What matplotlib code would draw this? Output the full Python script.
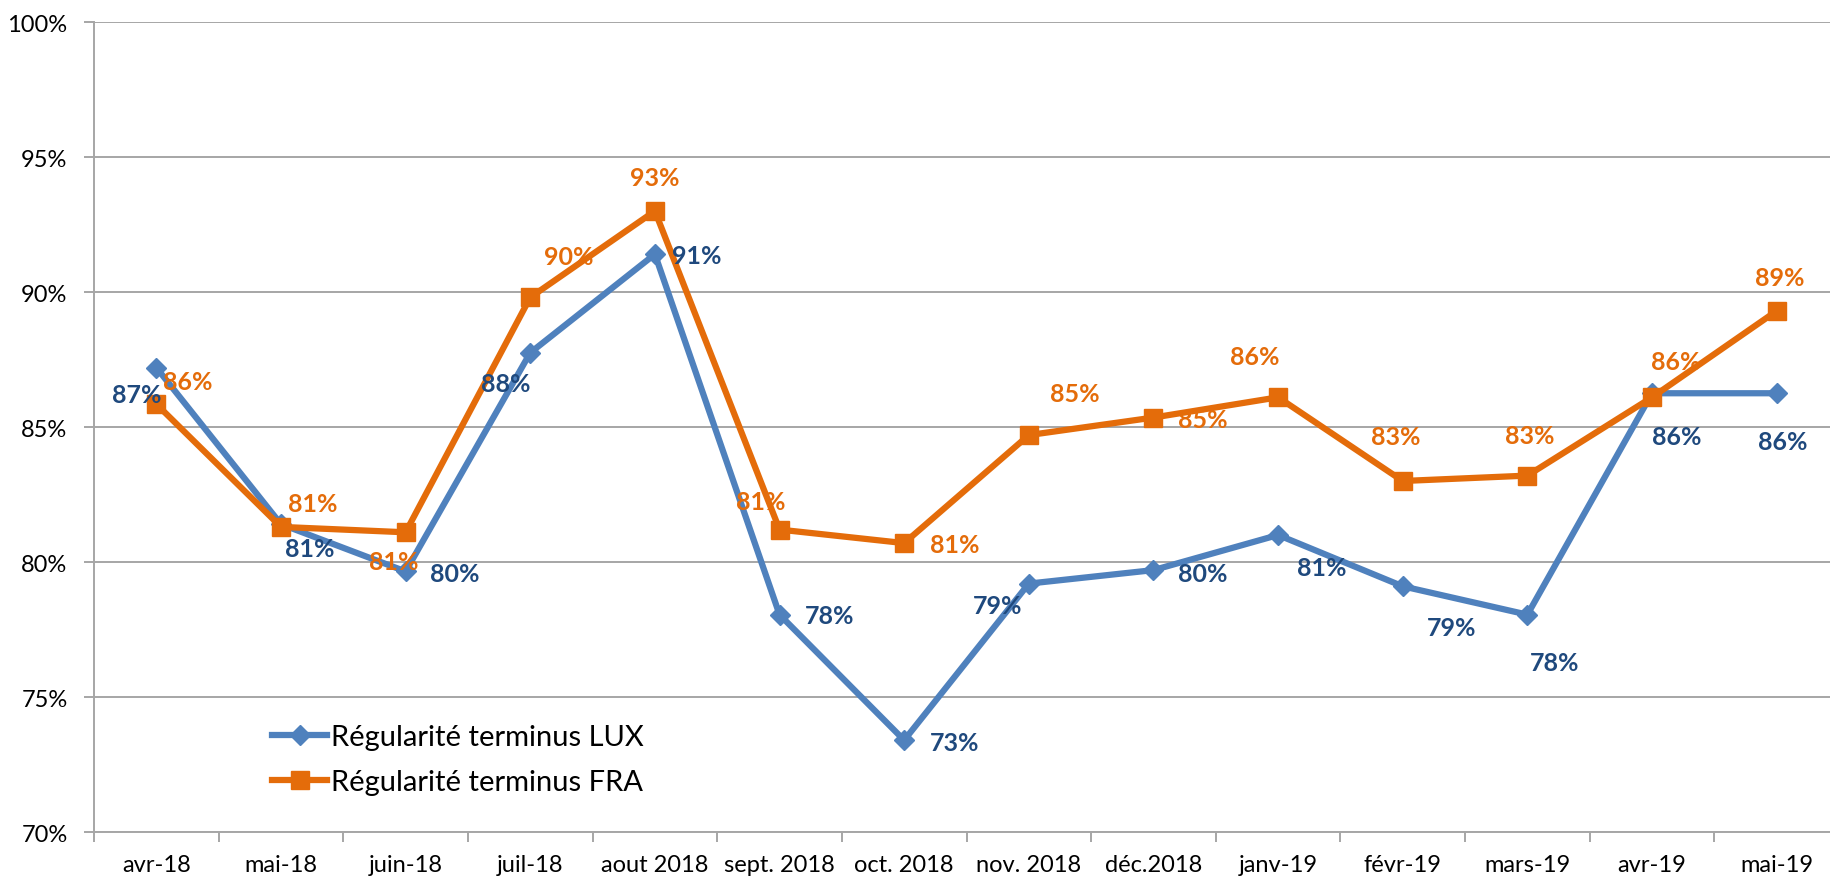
import matplotlib.pyplot as plt
from matplotlib.ticker import FixedLocator, FuncFormatter

plt.rcParams['font.family'] = ['Lato', 'DejaVu Sans']

# data
mois = ['avr-18', 'mai-18', 'juin-18', 'juil-18', 'aout 2018', 'sept. 2018',
        'oct. 2018', 'nov. 2018', 'déc.2018', 'janv-19', 'févr-19', 'mars-19',
        'avr-19', 'mai-19']
lux = [87.2, 81.4, 79.65, 87.75, 91.4, 78.05, 73.4, 79.2, 79.7, 81.0, 79.1, 78.05, 86.25, 86.25]
fra = [85.85, 81.3, 81.1, 89.8, 93.0, 81.2, 80.7, 84.7, 85.35, 86.1, 83.0, 83.2, 86.1, 89.3]

# label offsets (pixels, y up)
k = 1.1677
lux_off = [(-17, -23), (25, -21), (42, -2), (-21, -26), (36, -1), (43, -1), (43, -2),
           (-27, -19), (42, -3), (37, -28), (42, -35), (23, -41), (21, -37), (5, -41)]
fra_off = [(27, 19), (27, 20), (-10, -25), (33, 35), (0, 29), (-16, 24), (43, -1),
           (39, 36), (42, -2), (-20, 35), (-6, 38), (2, 34), (20, 31), (3, 29)]

c_lux = '#4F81BD'
c_fra = '#E46C0A'
c_lux_txt = '#1F497D'
grid = '#A6A6A6'

W, H = 1831, 879
fig = plt.figure(figsize=(W / 100, H / 100), dpi=100)
ax = fig.add_axes([94 / W, 1 - 833 / H, (1839 - 94) / W, (833 - 23) / H])

x = list(range(len(mois)))
ax.plot(x, lux, color=c_lux, lw=4.5, marker='D', ms=10, label='Régularité terminus LUX', zorder=3)
ax.plot(x, fra, color=c_fra, lw=4.5, marker='s', ms=13, label='Régularité terminus FRA', zorder=4)

for i in x:
    ax.annotate(f'{round(lux[i]):d}%', (i, lux[i]), xytext=(lux_off[i][0] * k, lux_off[i][1] * k),
                textcoords='offset pixels', ha='center', va='center', fontsize=18,
                fontweight='bold', color=c_lux_txt, zorder=5)
    ax.annotate(f'{round(fra[i]):d}%', (i, fra[i]), xytext=(fra_off[i][0] * k, fra_off[i][1] * k),
                textcoords='offset pixels', ha='center', va='center', fontsize=18,
                fontweight='bold', color=c_fra, zorder=5)

ax.set_xlim(-0.5, len(mois) - 0.5)
ax.set_ylim(70, 100)
ax.set_yticks(range(70, 101, 5))
ax.yaxis.set_major_formatter(FuncFormatter(lambda v, p: f'{v:.0f}%'))
ax.grid(axis='y', color=grid, lw=1.4)
ax.set_axisbelow(True)

ax.xaxis.set_major_locator(FixedLocator([i - 0.5 for i in range(len(mois) + 1)]))
ax.xaxis.set_major_formatter(FuncFormatter(lambda v, p: ''))
ax.xaxis.set_minor_locator(FixedLocator(x))
ax.set_xticklabels(mois, minor=True)
ax.tick_params(axis='x', which='major', length=7, width=1.4, color=grid, direction='out')
ax.tick_params(axis='x', which='minor', length=0, pad=16, labelsize=17)
ax.tick_params(axis='y', length=7, width=1.4, color=grid, pad=12, labelsize=17)

for s in ['top', 'right']:
    ax.spines[s].set_visible(False)
for s in ['left', 'bottom']:
    ax.spines[s].set_color(grid)
    ax.spines[s].set_linewidth(1.4)

ax.legend(loc='center left', bbox_to_anchor=(272 / W, 1 - 760.5 / H), bbox_transform=fig.transFigure,
          frameon=False, fontsize=21, handlelength=1.9, handletextpad=0.12, borderpad=0,
          borderaxespad=0, labelspacing=0.65)

fig.savefig('out.png', dpi=100)
